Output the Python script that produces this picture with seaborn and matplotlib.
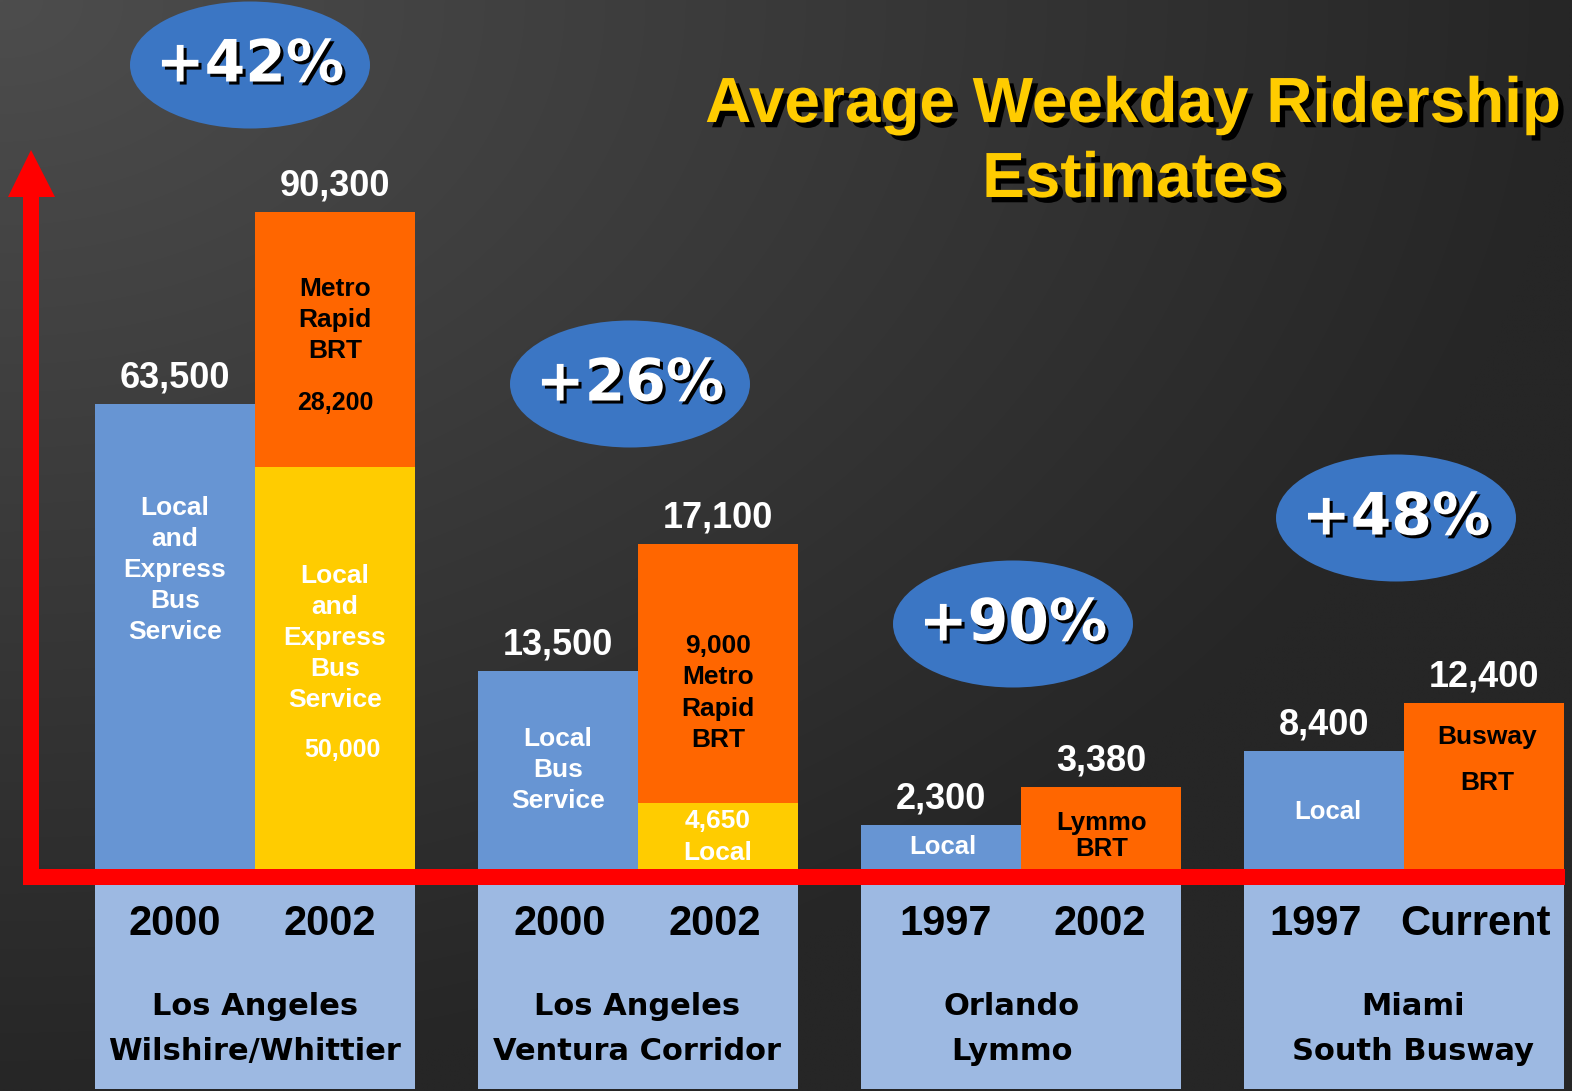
import numpy as np
import pandas as pd
import matplotlib
matplotlib.use("Agg")
import matplotlib.pyplot as plt
import matplotlib.patheffects as pe
from matplotlib.patches import Ellipse, Rectangle, Polygon
import seaborn as sns

# ─────────────────────────────────────────
# DATA
# ─────────────────────────────────────────
groups = [("Los Angeles", "Wilshire/Whittier"), ("Los Angeles", "Ventura Corridor"),
          ("Orlando", "Lymmo"), ("Miami", "South Busway")]
growth = ["+42%", "+26%", "+90%", "+48%"]
periods = ["2000", "2002", "2000", "2002", "1997", "2002", "1997", "Current"]
kinds = ["before", "after"] * 4
riders = [63500, 90300, 13500, 17100, 2300, 3380, 8400, 12400]
# the slide is not drawn to one scale, so keep the drawn bar heights as read off it
bar_height = [465, 657, 198, 325, 44, 82, 118, 166]
local_height = [0, 402, 0, 66, 0, 0, 0, 0]

# ─────────────────────────────────────────
# LAYOUT / STYLE
# ─────────────────────────────────────────
W, H = 1572, 1091
BASE = 869                       # pixel row of the bar baseline
BLUE, ORANGE, YELLOW = "#6795d3", "#ff6600", "#ffcc00"
BOX, OVAL, RED = "#9db9e2", "#3b76c4", "#ff0000"
GROUP_LEFT = [95 + i * 383 for i in range(4)]
bar_x = [g + off for g in GROUP_LEFT for off in (80, 240)]
year_x = [175, 330, 560, 715, 946, 1100, 1316, 1476]
name_x = [255, 637, 1012, 1413]
oval_xy = [(250, 65), (630, 384), (1013, 624), (1396, 518)]

def Y(py):
    return BASE - py

FONT = ["Liberation Sans", "DejaVu Sans"]

sns.set_theme(style="white")
plt.rcParams["font.family"] = FONT

fig = plt.figure(figsize=(W / 100, H / 100), dpi=100)
ax = fig.add_axes([0, 0, 1, 1])

# background: dark gradient, lighter at top-left
gx, gy = np.meshgrid(np.linspace(0, 1, 300), np.linspace(0, 1, 220))
d = np.clip(np.sqrt(gx ** 2 + gy ** 2), 0, 1)
g = (0x4d - d * (0x4d - 0x26)) / 255
bg = np.dstack([g, g, g])
ax.imshow(bg, extent=(0, W, Y(H), Y(0)), aspect="auto", interpolation="bilinear", zorder=0)

# bars
bars = pd.DataFrame({"x": bar_x, "height": bar_height, "kind": kinds, "riders": riders})
sns.barplot(data=bars, x="x", y="height", hue="kind",
            palette={"before": BLUE, "after": ORANGE}, native_scale=True,
            width=1.0, saturation=1, errorbar=None, legend=False,
            linewidth=0, ax=ax, zorder=2)
local = pd.DataFrame({"x": bar_x, "height": local_height})
sns.barplot(data=local, x="x", y="height", color=YELLOW, native_scale=True,
            width=1.0, saturation=1, errorbar=None, linewidth=0, ax=ax, zorder=3)

# label boxes under the axis
for left in GROUP_LEFT:
    ax.add_patch(Rectangle((left, Y(1089)), 320, 1089 - 885, color=BOX, lw=0, zorder=2))

# red axis with arrow
lw = 16 * 72 / 100
ax.plot([23, 1565], [Y(877), Y(877)], color=RED, lw=lw, solid_capstyle="butt", zorder=5)
ax.plot([31, 31], [Y(885), Y(195)], color=RED, lw=lw, solid_capstyle="butt", zorder=5)
ax.add_patch(Polygon([(31, Y(150)), (8, Y(197)), (55, Y(197))], color=RED, lw=0, zorder=5))

# ridership totals over the bars
for x, h, r in zip(bar_x, bar_height, riders):
    ax.text(x, h + 26, f"{r:,}", ha="center", va="center", color="white",
            fontsize=26, fontweight="bold", zorder=6)

# text inside the bars
inner = [
    (175, 570, "Local\nand\nExpress\nBus\nService", "white", 19, 1.37),
    (335, 320, "Metro\nRapid\nBRT", "black", 19, 1.37),
    (335, 403, "28,200", "black", 18, 1.2),
    (335, 638, "Local\nand\nExpress\nBus\nService", "white", 19, 1.37),
    (342, 750, "50,000", "white", 18, 1.2),
    (558, 770, "Local\nBus\nService", "white", 19, 1.37),
    (718, 693, "9,000\nMetro\nRapid\nBRT", "black", 19, 1.4),
    (718, 837, "4,650\nLocal", "white", 19, 1.37),
    (943, 847, "Local", "white", 18.5, 1.0),
    (1102, 836, "Lymmo\nBRT", "black", 18.5, 1.08),
    (1328, 812, "Local", "white", 18.5, 1.0),
    (1487, 737, "Busway", "black", 19, 1.0),
    (1487, 783, "BRT", "black", 19, 1.0),
]
for x, py, s, c, fs, ls in inner:
    ax.text(x, Y(py), s, ha="center", va="center", color=c, fontsize=fs,
            fontweight="bold", linespacing=ls, zorder=6)

# years and group names in the boxes
for x, p in zip(year_x, periods):
    ax.text(x, Y(935), p, ha="center", va="baseline", color="black",
            fontsize=30, fontweight="bold", zorder=6)
for x, (city, line) in zip(name_x, groups):
    ax.text(x, Y(1015), city, ha="center", va="baseline", color="black",
            fontsize=22, fontweight="bold", family="DejaVu Sans", zorder=6)
    ax.text(x, Y(1060), line, ha="center", va="baseline", color="black",
            fontsize=22, fontweight="bold", family="DejaVu Sans", zorder=6)

# growth ovals
shadow = [pe.withSimplePatchShadow(offset=(2.2, -2.2), shadow_rgbFace="black", alpha=1.0)]
for (cx, cy), s in zip(oval_xy, growth):
    ax.add_patch(Ellipse((cx, Y(cy)), 240, 127, color=OVAL, lw=0, zorder=4))
    ax.text(cx, Y(cy), s, ha="center", va="center", color="white", fontsize=42,
            fontweight="bold", family="DejaVu Sans", path_effects=shadow, zorder=6)

# title
tshadow = [pe.withSimplePatchShadow(offset=(3.8, -3.8), shadow_rgbFace="black", alpha=1.0)]
for py, line in [(105, "Average Weekday Ridership"), (180, "Estimates")]:
    ax.text(1133, Y(py), line, ha="center", va="center", color="#ffcc00",
            fontsize=46, fontweight="bold", path_effects=tshadow, zorder=6)

ax.set_xlim(0, W)
ax.set_ylim(Y(H), Y(0))
ax.axis("off")
fig.savefig("out.png", dpi=100)
